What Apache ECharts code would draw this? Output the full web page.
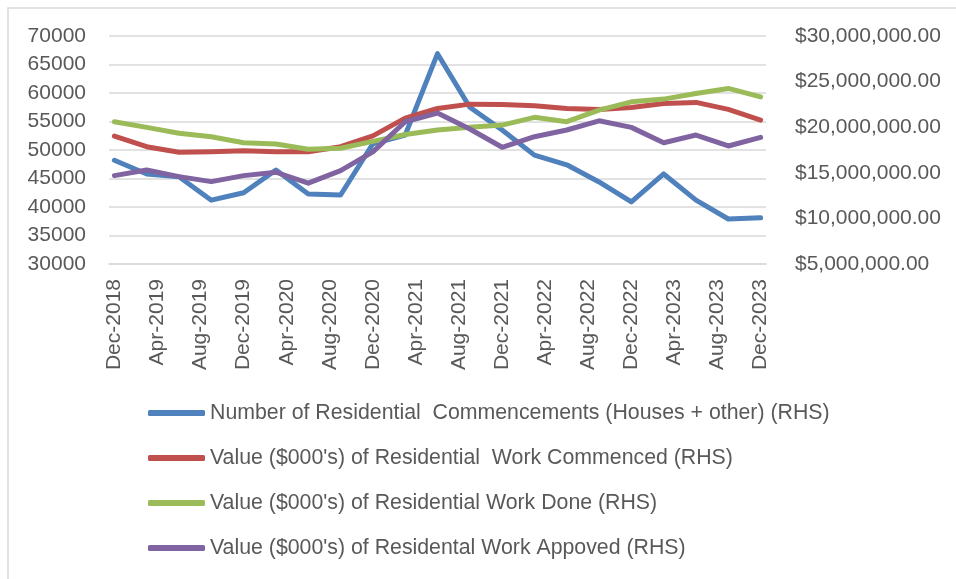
<!DOCTYPE html>
<html>
<head>
<meta charset="utf-8">
<script src="https://cdn.jsdelivr.net/npm/echarts@6/dist/echarts.min.js"></script>
<style>
  html, body { margin: 0; padding: 0; background: #fff; }
  #chart { width: 956px; height: 579px; }
</style>
</head>
<body>
<div id="chart"></div>
<script>
// ── data (quarterly observations on a monthly date axis) ──
const MONTH_NAMES = ["Jan", "Feb", "Mar", "Apr", "May", "Jun", "Jul", "Aug", "Sep", "Oct", "Nov", "Dec"];
const quarters = [
    "Dec-2018", "Mar-2019", "Jun-2019", "Sep-2019", "Dec-2019", "Mar-2020", "Jun-2020",
    "Sep-2020", "Dec-2020", "Mar-2021", "Jun-2021", "Sep-2021", "Dec-2021", "Mar-2022",
    "Jun-2022", "Sep-2022", "Dec-2022", "Mar-2023", "Jun-2023", "Sep-2023", "Dec-2023"
];
const commencements = [
    48200, 45800, 45300, 41200, 42500, 46500, 42300,
    42100, 51100, 52600, 66900, 57500, 53500, 49100,
    47400, 44400, 40900, 45800, 41200, 37900, 38100
];
const workCommenced = [
    19030000, 17860000, 17250000, 17300000, 17420000, 17310000, 17300000,
    17860000, 19050000, 21000000, 22060000, 22530000, 22500000, 22350000,
    22060000, 21950000, 22170000, 22600000, 22720000, 21950000, 20780000
];
const workDone = [
    20600000, 19980000, 19330000, 18960000, 18300000, 18160000, 17580000,
    17690000, 18450000, 19200000, 19700000, 20000000, 20230000, 21080000,
    20600000, 21870000, 22780000, 23080000, 23700000, 24250000, 23330000
];
const workApproved = [
    14690000, 15310000, 14580000, 14030000, 14690000, 15060000, 13860000,
    15240000, 17300000, 20600000, 21550000, 19800000, 17800000, 18960000,
    19690000, 20700000, 19980000, 18300000, 19140000, 17940000, 18890000
];
const seriesNames = [
    "Number of Residential  Commencements (Houses + other) (RHS)",
    "Value ($000's) of Residential  Work Commenced (RHS)",
    "Value ($000's) of Residential Work Done (RHS)",
    "Value ($000's) of Residental Work Appoved (RHS)"
];
const seriesColors = ["#4F81BD", "#C0504D", "#9BBB59", "#8064A2"];

// monthly categories Dec-2018 .. Dec-2023
const months = [];
for (let y = 2018, m = 11; y < 2024; ) {
    months.push(MONTH_NAMES[m] + "-" + y);
    if (y === 2023 && m === 11) break;
    m++; if (m > 11) { m = 0; y++; }
}

function pairs(vals) { return vals.map(function(v, i) { return [quarters[i], v]; }); }

function dollars(v) {
    return "$" + v.toFixed(2).replace(/\B(?=(\d{3})+(?!\d))/g, ",");
}

const TXT = "#595959";
const FONT = "Liberation Sans";

function lineSeries(idx, data, yAxisIndex) {
    return {
        name: seriesNames[idx], type: "line", yAxisIndex: yAxisIndex,
        data: pairs(data), symbol: "none", connectNulls: true,
        color: seriesColors[idx],
        lineStyle: { width: 5, color: seriesColors[idx], cap: "round", join: "round" },
    };
}

const chart = echarts.init(document.getElementById("chart"));
chart.setOption({
    animation: false,
    backgroundColor: "#fff",
    textStyle: { fontFamily: FONT },
    graphic: [{
        type: "rect", silent: true,
        shape: { x: 8, y: 8, width: 2000, height: 2000 },
        style: { fill: "none", stroke: "#D9D9D9", lineWidth: 1.5 },
    }],
    grid: { left: 109, right: 190, top: 36, bottom: 315 },
    xAxis: {
        type: "category", data: months, boundaryGap: true,
        axisLine: { lineStyle: { color: "#D9D9D9", width: 1.5 } },
        axisTick: { interval: 3, length: 6, lineStyle: { color: "#D9D9D9", width: 1.5 } },
        axisLabel: { interval: 3, rotate: 90, margin: 15, color: TXT, fontSize: 21, fontFamily: FONT },
    },
    yAxis: [{
        type: "value", min: 30000, max: 70000, interval: 5000, position: "left",
        axisLine: { show: false }, axisTick: { show: false },
        axisLabel: { margin: 23, color: TXT, fontSize: 21, fontFamily: FONT,
            formatter: function(v) { return String(v); } },
        splitLine: { lineStyle: { color: "#D9D9D9", width: 1.5 } },
    }, {
        type: "value", min: 5000000, max: 30000000, interval: 5000000, position: "right",
        axisLine: { show: false }, axisTick: { show: false }, splitLine: { show: false },
        axisLabel: { margin: 29, color: TXT, fontSize: 21, fontFamily: FONT, formatter: dollars },
    }],
    legend: {
        orient: "vertical", left: 148, top: 401, padding: 0,
        itemWidth: 57, itemHeight: 6, itemGap: 21, icon: "roundRect",
        textStyle: { color: TXT, fontSize: 21.3, lineHeight: 24, fontFamily: FONT },
        data: seriesNames,
    },
    series: [
        lineSeries(0, commencements, 0),
        lineSeries(1, workCommenced, 1),
        lineSeries(2, workDone, 1),
        lineSeries(3, workApproved, 1),
    ],
});
</script>
</body>
</html>
